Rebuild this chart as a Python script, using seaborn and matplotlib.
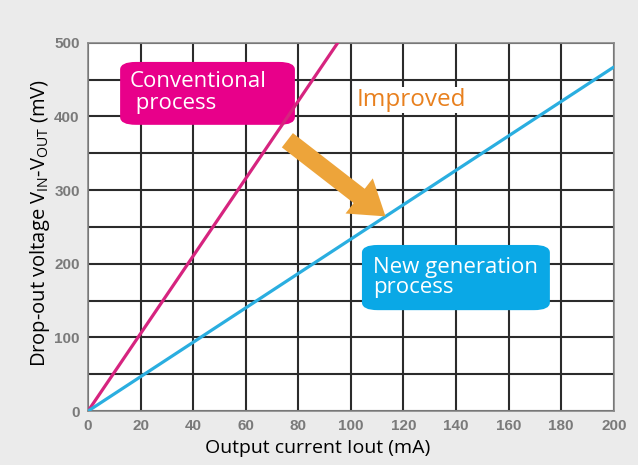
import numpy as np
import pandas as pd
import seaborn as sns
import matplotlib.pyplot as plt
from matplotlib.patches import FancyBboxPatch

# Data
conv_current = [0, 95]          # mA
conv_voltage = [0, 500]         # mV
new_current = [0, 200]          # mA
new_voltage = [0, 467]          # mV
x_ticks = [0, 20, 40, 60, 80, 100, 120, 140, 160, 180, 200]
y_ticks = [0, 100, 200, 300, 400, 500]
y_minor = [50, 150, 250, 350, 450]

df = pd.concat([
    pd.DataFrame({'current': conv_current, 'voltage': conv_voltage, 'process': 'Conventional'}),
    pd.DataFrame({'current': new_current, 'voltage': new_voltage, 'process': 'New'}),
])

sns.set_style('white')
plt.rcParams['font.family'] = ['Open Sans', 'DejaVu Sans']

fig = plt.figure(figsize=(6.38, 4.65), dpi=100, facecolor='#ebebeb')
ax = fig.add_axes([0.138, 0.116, 0.824, 0.792])
ax.set_facecolor('white')

# Grid
ax.set_xlim(0, 200)
ax.set_ylim(0, 500)
ax.set_xticks(x_ticks)
ax.set_yticks(y_ticks)
ax.set_yticks(y_minor, minor=True)
ax.grid(True, which='both', color='#2b2b2b', linewidth=1.5, zorder=0)
ax.set_axisbelow(True)

sns.lineplot(data=df, x='current', y='voltage', hue='process',
             palette={'Conventional': '#d6247f', 'New': '#2aaee0'},
             linewidth=2.3, legend=False, ax=ax, zorder=3)

for s in ax.spines.values():
    s.set_color('#888888')
    s.set_linewidth(1.2)

ax.tick_params(axis='both', which='both', colors='#7a7a7a', length=4, width=1.2,
               labelsize=11, pad=2)
ax.tick_params(axis='y', which='both', color='#2b2b2b')
for lab in ax.get_xticklabels() + ax.get_yticklabels():
    lab.set_family(['Liberation Sans', 'DejaVu Sans'])
    lab.set_fontweight('bold')

ax.set_xlabel('Output current Iout (mA)', fontsize=14, color='black')
ax.xaxis.set_label_coords(0.437, -0.075)
ax.set_ylabel(r'Drop-out voltage V$_{\mathregular{IN}}$-V$_{\mathregular{OUT}}$ (mV)',
              fontsize=14.5, color='black')
ax.yaxis.set_label_coords(-0.068, 0.51)

# Labels in rounded boxes
ax.add_patch(FancyBboxPatch((12.2, 388.6), 66.5, 85.4,
                            boxstyle='round,pad=0,rounding_size=6',
                            mutation_aspect=500 / 200 * 0.7,
                            fc='#e8008a', ec='none', zorder=2.5))
ax.text(16, 432, 'Conventional\n process', color='white', fontsize=16, va='center',
        ha='left', linespacing=1.05, zorder=6)

ax.add_patch(FancyBboxPatch((104.2, 137), 71.5, 88.5,
                            boxstyle='round,pad=0,rounding_size=6',
                            mutation_aspect=500 / 200 * 0.7,
                            fc='#0aa8e6', ec='none', zorder=5))
ax.text(108.4, 181, 'New generation\nprocess', color='white', fontsize=16, va='center',
        ha='left', linespacing=0.95, zorder=6)

ax.text(102, 422, 'Improved', color='#e8801e', fontsize=17.5, va='center', ha='left',
        zorder=5, bbox=dict(boxstyle='square,pad=0.05', fc='white', ec='none'))

ax.annotate('', xy=(114, 262), xytext=(75, 370),
            arrowprops=dict(arrowstyle='simple,head_length=2.4,head_width=3.2,tail_width=1.3',
                            fc='#eda43a', ec='none'), zorder=6)

fig.savefig('out.png', dpi=100, facecolor=fig.get_facecolor())
